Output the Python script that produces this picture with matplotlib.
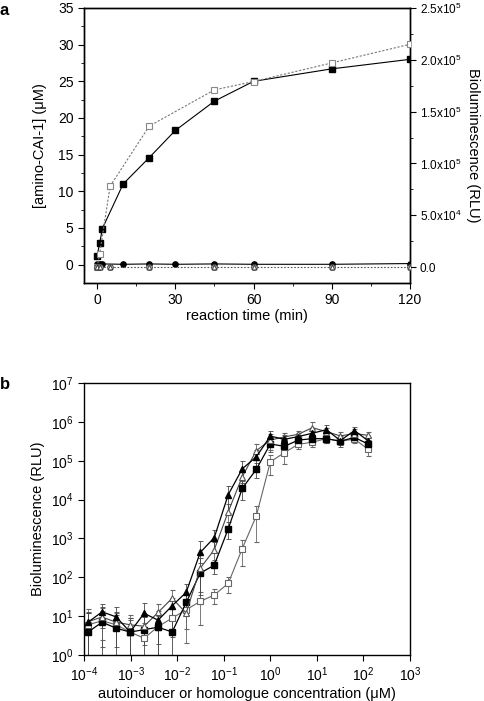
import numpy as np
import matplotlib.pyplot as plt
from matplotlib.ticker import FixedLocator, NullLocator, FixedFormatter

# ---- panel a data ----
t_filled = [0, 1, 2, 10, 20, 30, 45, 60, 90, 120]
amino_cai = [1.2, 2.9, 4.9, 11.0, 14.6, 18.3, 22.3, 25.0, 26.7, 28.0]
amino_ctrl = [0.05, 0.1, 0.1, 0.05, 0.1, 0.05, 0.1, 0.05, 0.05, 0.15]

t_open = [0, 1, 5, 20, 45, 60, 90, 120]
biolum = [0, 12800, 78000, 136000, 171000, 179000, 197000, 215000]
biolum_ctrl = [0, 0, 0, 0, 0, 0, 0, 0]

# ---- panel b data ----
conc = [0.000122, 0.000244, 0.000488, 0.000977, 0.00195, 0.0039, 0.0078,
        0.0156, 0.03125, 0.0625, 0.125, 0.25, 0.5, 1, 2, 4, 8, 16, 32, 64, 128]

filled_tri = [7, 12.9, 9.6, 3.9, 11.8, 7.9, 18.5, 41, 435, 1050, 13400, 62000,
              126000, 430000, 355000, 420000, 510000, 630000, 330000, 600000, 320000]
filled_tri_err = [6, 8, 8, 4, 10, 6, 10, 25, 400, 600, 9000, 35000,
                  60000, 150000, 100000, 100000, 150000, 200000, 100000, 150000, 80000]

open_tri = [7.2, 9.5, 7, 6, 5.5, 12.5, 29, 12, 171, 510, 4900, 39000,
            182000, 340000, 410000, 480000, 710000, 560000, 435000, 500000, 450000]
open_tri_err = [8, 7, 6, 5, 6, 8, 18, 10, 150, 300, 3000, 20000,
                80000, 150000, 100000, 120000, 300000, 150000, 100000, 150000, 100000]

filled_sq = [3.9, 7, 4.9, 3.9, 4.5, 5.2, 3.9, 22.5, 128, 205, 1780, 19500,
             60000, 270000, 235000, 340000, 370000, 370000, 317000, 400000, 265000]
filled_sq_err = [8, 10, 6, 5, 5, 5, 5, 12, 100, 80, 800, 10000,
                 25000, 100000, 70000, 100000, 100000, 80000, 60000, 80000, 60000]

open_sq = [6, 7.6, 6, 3.9, 2.7, 5.4, 8.9, 14.6, 24, 35, 70, 550,
           3800, 93000, 162000, 265000, 300000, 370000, 320000, 360000, 195000]
open_sq_err = [6, 6, 6, 5, 4, 6, 6, 10, 18, 15, 30, 350,
               3000, 50000, 80000, 60000, 80000, 80000, 50000, 80000, 60000]

plt.rcParams['font.family'] = ['Liberation Sans', 'DejaVu Sans']
plt.rcParams['mathtext.fontset'] = 'custom'
plt.rcParams['mathtext.rm'] = 'Liberation Sans'
plt.rcParams['axes.linewidth'] = 1.0

fig = plt.figure(figsize=(4.84, 7.01), dpi=100)

# ================= panel a =================
ax = fig.add_axes([0.1736, 0.5963, 0.6736, 0.3923])
ax.plot(t_filled, amino_cai, color="black", lw=0.8, marker="s", ms=3.8,
        mfc="black", mec="black", zorder=4)
ax.plot(t_filled, amino_ctrl, color="black", lw=0.8, marker="o", ms=3.8,
        mfc="black", mec="black", zorder=4)
ax.set_xlim(-5, 120)
ax.set_ylim(-2.5, 35)
ax.xaxis.set_major_locator(FixedLocator([0, 30, 60, 90, 120]))
ax.xaxis.set_minor_locator(FixedLocator([15, 45, 75, 105]))
ax.yaxis.set_major_locator(FixedLocator([0, 5, 10, 15, 20, 25, 30, 35]))
ax.yaxis.set_minor_locator(FixedLocator(np.arange(2.5, 35, 5)))
ax.tick_params(which="both", direction="out", labelsize=10)
ax.tick_params(which="major", length=4)
ax.tick_params(which="minor", length=2.5)
ax.set_xlabel("reaction time (min)", fontsize=10.5, labelpad=1)
ax.set_ylabel("[amino-CAI-1] (\u03bcM)", fontsize=10.5, labelpad=8)

ax2 = ax.twinx()
ax2.plot(t_open, biolum, color="#777777", lw=0.8, ls=(0, (2, 1.5)), marker="s",
         ms=4, mfc="white", mec="#888888", mew=0.8, zorder=3)
ax2.plot(t_open, biolum_ctrl, color="#555555", lw=0.8, ls=(0, (1.5, 1.5)),
         marker="o", ms=4, mfc="white", mec="#444444", mew=0.8, zorder=3)
ax2.plot(t_open, biolum_ctrl, ls="none", marker="^", ms=3.5, mfc="white",
         mec="#444444", mew=0.8, zorder=3)
ax2.set_ylim(-15400, 250000)
rticks = [0, 50000, 100000, 150000, 200000, 250000]
ax2.yaxis.set_major_locator(FixedLocator(rticks))
ax2.yaxis.set_major_formatter(FixedFormatter(
    ["0.0", r"5.0x10$^4$", r"1.0x10$^5$", r"1.5x10$^5$", r"2.0x10$^5$", r"2.5x10$^5$"]))
ax2.yaxis.set_minor_locator(FixedLocator(np.arange(25000, 250000, 50000)))
ax2.tick_params(which="both", direction="out", labelsize=8.5, pad=3)
ax2.tick_params(which="major", length=4)
ax2.tick_params(which="minor", length=2.5)
ax2.set_ylabel("Bioluminescence (RLU)", fontsize=10.5, rotation=270)
ax2.yaxis.set_label_coords(1.215, 0.5)

fig.text(0.0, 0.985, "a", fontsize=12, fontweight="bold", va="center", ha="left")

# ================= panel b =================
bx = fig.add_axes([0.1736, 0.0656, 0.6736, 0.388])
err_kw = dict(elinewidth=0.6, capsize=1.8, capthick=0.6)
bx.errorbar(conc, open_sq, yerr=open_sq_err, color="#666666", lw=0.8, marker="s",
            ms=4, mfc="white", mec="#666666", mew=0.8, ecolor="#666666", **err_kw)
bx.errorbar(conc, filled_sq, yerr=filled_sq_err, color="black", lw=0.9, marker="s",
            ms=3.8, mfc="black", mec="black", ecolor="#444444", **err_kw)
bx.errorbar(conc, open_tri, yerr=open_tri_err, color="#444444", lw=0.8, marker="^",
            ms=4.5, mfc="white", mec="#555555", mew=0.8, ecolor="#666666", **err_kw)
bx.errorbar(conc, filled_tri, yerr=filled_tri_err, color="black", lw=0.9, marker="^",
            ms=4.5, mfc="black", mec="black", ecolor="#444444", **err_kw)
bx.set_xscale("log")
bx.set_yscale("log", nonpositive="clip")
bx.set_xlim(1e-4, 1e3)
bx.set_ylim(1, 1e7)
bx.xaxis.set_major_locator(FixedLocator([10.0 ** k for k in range(-4, 4)]))
bx.xaxis.set_major_formatter(FixedFormatter(
    [r"10$^{%d}$" % k for k in range(-4, 4)]))
bx.yaxis.set_major_locator(FixedLocator([10.0 ** k for k in range(0, 8)]))
bx.yaxis.set_major_formatter(FixedFormatter(
    [r"10$^{%d}$" % k for k in range(0, 8)]))
bx.xaxis.set_minor_locator(NullLocator())
bx.yaxis.set_minor_locator(NullLocator())
bx.tick_params(which="both", direction="out", labelsize=10, length=4)
bx.set_xlabel("autoinducer or homologue concentration (\u03bcM)", fontsize=10.5, labelpad=2)
bx.set_ylabel("Bioluminescence (RLU)", fontsize=10.5, labelpad=4)

fig.text(0.0, 0.452, "b", fontsize=12, fontweight="bold", va="center", ha="left")

fig.savefig("out.png", dpi=100)
